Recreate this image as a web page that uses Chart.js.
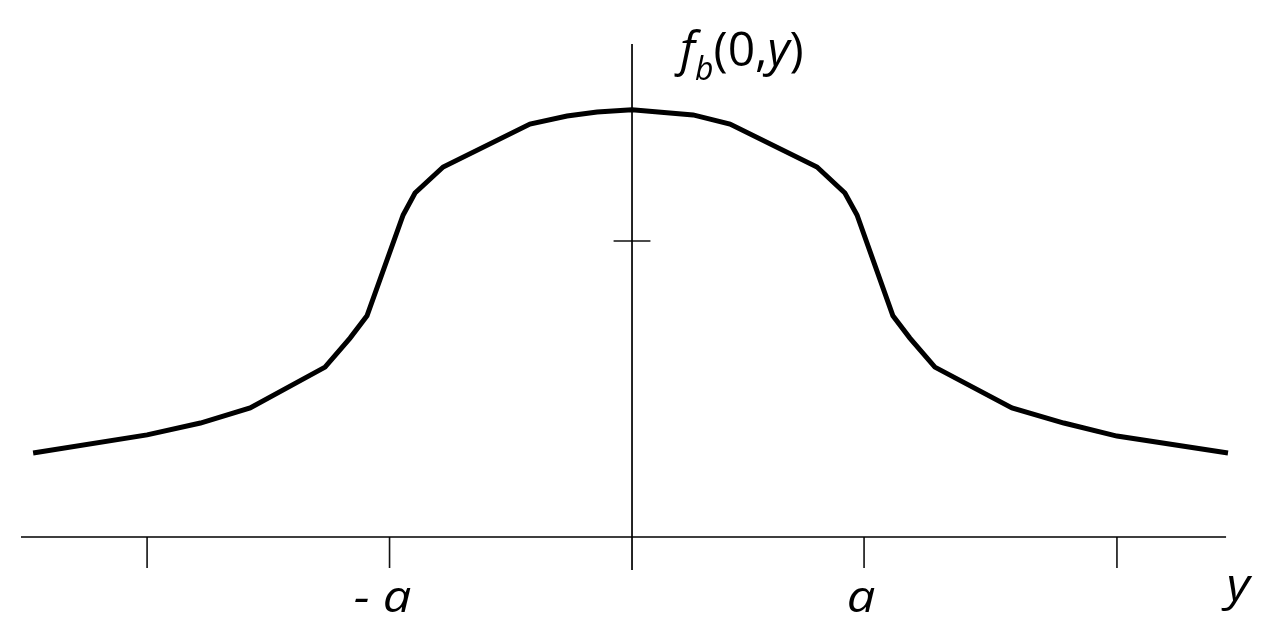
<!DOCTYPE html>
<html>
<head>
<meta charset="utf-8">
<script src="https://cdn.jsdelivr.net/npm/chart.js@4"></script>
<style>
  html, body { margin: 0; padding: 0; background: #fff; }
  canvas { display: block; }
</style>
</head>
<body>
<canvas id="myChart" width="1269" height="633"></canvas>
<script>
// curve f_b(0,y), x in units of a, height in units of the axis tick
const curveX = [-2.47, -2.00, -1.78, -1.575, -1.266, -1.163, -1.093, -0.944, -0.895, -0.779,
  -0.421, -0.268, -0.144, 0, 0.252, 0.404, 0.763, 0.878, 0.928, 1.076, 1.146, 1.249,
  1.567, 1.781, 2.00, 2.458];
const curveY = [0.284, 0.345, 0.385, 0.436, 0.574, 0.672, 0.747, 1.088, 1.162, 1.250,
  1.395, 1.422, 1.436, 1.443, 1.426, 1.395, 1.250, 1.162, 1.088, 0.747, 0.672, 0.574,
  0.436, 0.385, 0.341, 0.284];

// ticks on the horizontal axis and their labels
const xTicks = [-2, -1, 0.957, 2];
const xTickLabels = ['', '- a', 'a', ''];
const yTicks = [1];
const axisLabelX = 'y';

const xMin = -2.52, xMax = 2.458, xAxisEnd = 2.45;
const yMin = -0.1115, yMax = 1.6655;
const tickLen = 0.105, yTickHalf = 0.076;

let curve = curveX.map((x, i) => ({x: x, y: curveY[i]}));

let axes = [
  {x: xMin, y: 0}, {x: xAxisEnd, y: 0}, {x: null, y: null},
  {x: 0, y: yMin}, {x: 0, y: yMax}
];

let tickMarks = [];
xTicks.forEach(t => {
  tickMarks.push({x: t, y: 0}, {x: t, y: -tickLen}, {x: t, y: null});
});
yTicks.forEach(t => {
  tickMarks.push({x: -yTickHalf, y: t}, {x: yTickHalf, y: t}, {x: 0, y: null});
});

function stretchText(ctx, str, x, y, font, align, sx) {
  ctx.save();
  ctx.font = font;
  ctx.translate(x, y);
  ctx.scale(sx, 1);
  ctx.textAlign = align || 'left';
  ctx.textBaseline = 'alphabetic';
  ctx.fillText(str, 0, 0);
  const w = ctx.measureText(str).width * sx;
  ctx.restore();
  return w;
}

const labelsPlugin = {
  id: 'labels',
  afterDraw(chart) {
    const ctx = chart.ctx;
    const xs = chart.scales.x, ys = chart.scales.y;
    ctx.fillStyle = '#000';
    const base = ys.getPixelForValue(0);

    // tick labels
    xTicks.forEach((t, i) => {
      if (!xTickLabels[i]) return;
      const shift = t < 0 ? -7 : -3;
      stretchText(ctx, xTickLabels[i], xs.getPixelForValue(t) + shift, base + 75,
        'italic 44px "Open Sans"', 'center', 1.15);
    });
    // axis name at the right end
    stretchText(ctx, axisLabelX, xs.getPixelForValue(xAxisEnd) + 12, base + 63,
      'italic 44px "Open Sans"', 'center', 1.15);

    // f_b(0,y) beside the vertical axis
    let px = xs.getPixelForValue(0) + 48;
    const py = ys.getPixelForValue(yMax) + 22;
    const parts = [
      {t: 'f', f: 'italic 48px "Open Sans"', dy: 0},
      {t: 'b', f: 'italic 32px "Open Sans"', dy: 14},
      {t: '(0,', f: '48px "Open Sans"', dy: 0},
      {t: 'y', f: 'italic 48px "Open Sans"', dy: 0},
      {t: ')', f: '48px "Open Sans"', dy: 0}
    ];
    parts.forEach(p => {
      px += stretchText(ctx, p.t, px, py + p.dy, p.f, 'left', 1.0);
    });
  }
};

new Chart(document.getElementById('myChart'), {
  type: 'line',
  data: {
    datasets: [
      {
        data: curve,
        borderColor: '#000',
        borderWidth: 5,
        pointRadius: 0,
        tension: 0,
        clip: false
      },
      {
        data: axes,
        borderColor: '#000',
        borderWidth: 1.7,
        pointRadius: 0,
        spanGaps: false,
        clip: false
      },
      {
        data: tickMarks,
        borderColor: '#111',
        borderWidth: 1.6,
        pointRadius: 0,
        spanGaps: false,
        clip: false
      }
    ]
  },
  options: {
    responsive: false,
    animation: false,
    devicePixelRatio: 1,
    layout: {padding: {left: 21, right: 41, top: 44, bottom: 63}},
    plugins: {legend: {display: false}, tooltip: {enabled: false}, title: {display: false}},
    scales: {
      x: {type: 'linear', min: xMin, max: xMax, display: false},
      y: {type: 'linear', min: yMin, max: yMax, display: false}
    }
  },
  plugins: [labelsPlugin]
});
</script>
</body>
</html>
